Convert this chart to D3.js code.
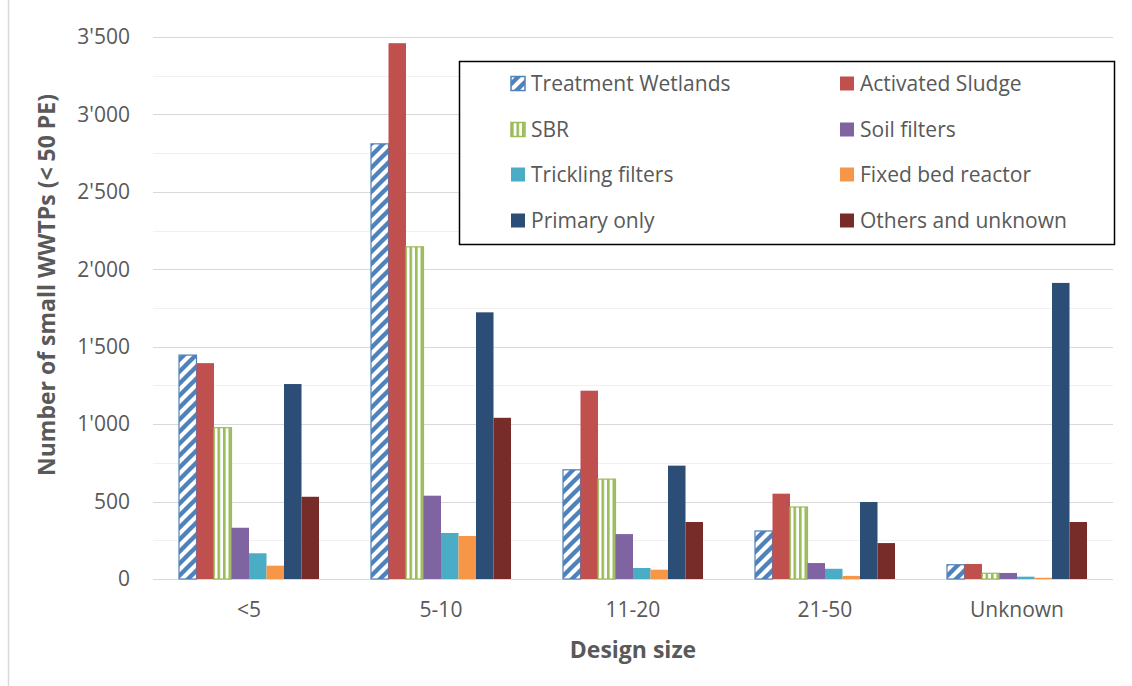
<!DOCTYPE html>
<html><head><meta charset="utf-8">
<script src="https://cdn.jsdelivr.net/npm/d3@7"></script>
<style>body{margin:0;background:#fff}svg{display:block}</style>
</head><body>
<script>
const categories = ["<5", "5-10", "11-20", "21-50", "Unknown"];
const seriesNames = ["Treatment Wetlands", "Activated Sludge", "SBR", "Soil filters",
  "Trickling filters", "Fixed bed reactor", "Primary only", "Others and unknown"];
const treatmentWetlands = [1446, 2810, 705, 310, 92];
const activatedSludge   = [1394, 3460, 1216, 551, 97];
const sbr               = [977, 2145, 645, 465, 37];
const soilFilters       = [331, 538, 290, 103, 39];
const tricklingFilters  = [166, 297, 71, 66, 15];
const fixedBedReactor   = [86, 278, 60, 20, 8];
const primaryOnly       = [1259, 1722, 732, 497, 1912];
const othersUnknown     = [531, 1041, 368, 232, 368];
const yTicks = [0, 500, 1000, 1500, 2000, 2500, 3000, 3500];
const yMinorTicks = [250, 750, 1250, 1750, 2250, 2750, 3250];
const seriesValues = [treatmentWetlands, activatedSludge, sbr, soilFilters,
  tricklingFilters, fixedBedReactor, primaryOnly, othersUnknown];
const colors = ["#4f81bd", "#c0504d", "#9bbb59", "#8064a2", "#4bacc6", "#f79646", "#2c4d75", "#772c2a"];

const W = 1132, H = 686;
const plot = {left: 153, right: 1113, top: 37, bottom: 579};
const font = "'Open Sans', sans-serif";
const textColor = "#595959";

const svg = d3.select("body").append("svg").attr("width", W).attr("height", H);
svg.append("rect").attr("width", W).attr("height", H).attr("fill", "#fff");
svg.append("line").attr("x1", 8.5).attr("x2", 8.5).attr("y1", 0).attr("y2", H)
  .attr("stroke", "#d9d9d9").attr("stroke-width", 1.5);

const defs = svg.append("defs");
const diag = defs.append("pattern").attr("id", "diag").attr("patternUnits", "userSpaceOnUse")
  .attr("width", 12).attr("height", 12);
diag.append("rect").attr("width", 12).attr("height", 12).attr("fill", "#fff");
diag.append("path").attr("d", "M-3,3 L3,-3 M0,12 L12,0 M9,15 L15,9")
  .attr("stroke", colors[0]).attr("stroke-width", 4.4);
const vert = defs.append("pattern").attr("id", "vert").attr("patternUnits", "userSpaceOnUse")
  .attr("width", 5.5).attr("height", 10);
vert.append("rect").attr("width", 5.5).attr("height", 10).attr("fill", "#fff");
vert.append("rect").attr("x", 0).attr("width", 2.6).attr("height", 10).attr("fill", colors[2]);
const fills = colors.map((c, i) => i === 0 ? "url(#diag)" : i === 2 ? "url(#vert)" : c);

const y = d3.scaleLinear().domain([0, 3500]).range([plot.bottom, plot.top]);
const x0 = d3.scaleBand().domain(categories).range([plot.left, plot.right]).paddingInner(0.2708).paddingOuter(0.1354);
const x1 = d3.scaleBand().domain(seriesNames).range([0, x0.bandwidth()]);

// grid
svg.append("g").selectAll("line").data(yMinorTicks).join("line")
  .attr("x1", plot.left).attr("x2", plot.right)
  .attr("y1", d => Math.round(y(d)) + 0.5).attr("y2", d => Math.round(y(d)) + 0.5)
  .attr("stroke", "#f0f0f0").attr("stroke-width", 1.2);
svg.append("g").selectAll("line").data(yTicks).join("line")
  .attr("x1", plot.left).attr("x2", plot.right)
  .attr("y1", d => Math.round(y(d)) + 0.5).attr("y2", d => Math.round(y(d)) + 0.5)
  .attr("stroke", "#d9d9d9").attr("stroke-width", 1.2);

// y tick labels
const fmt = d => d3.format(",")(d).replace(/,/g, "'");
svg.append("g").selectAll("text").data(yTicks).join("text")
  .attr("x", 130).attr("y", d => y(d)).attr("dy", "0.35em")
  .attr("text-anchor", "end").attr("font-family", font).attr("font-size", 21)
  .attr("fill", textColor).text(fmt);

// bars
const groups = svg.append("g").selectAll("g").data(categories).join("g")
  .attr("transform", d => `translate(${x0(d)},0)`);
groups.selectAll("rect").data((c, ci) => seriesNames.map((s, si) => ({s, si, v: seriesValues[si][ci]})))
  .join("rect")
  .attr("x", d => x1(d.s)).attr("width", x1.bandwidth())
  .attr("y", d => y(d.v)).attr("height", d => y(0) - y(d.v))
  .attr("fill", d => fills[d.si])
  .attr("stroke", d => (d.si === 0 || d.si === 2) ? colors[d.si] : "none")
  .attr("stroke-width", 1.2);

// x labels
svg.append("g").selectAll("text").data(categories).join("text")
  .attr("x", d => x0(d) + x0.bandwidth() / 2).attr("y", 610).attr("dy", "0.35em")
  .attr("text-anchor", "middle").attr("font-family", font).attr("font-size", 21)
  .attr("fill", textColor).text(d => d);

// axis titles
svg.append("text").attr("x", 633).attr("y", 650).attr("dy", "0.35em")
  .attr("text-anchor", "middle").attr("font-family", font).attr("font-size", 23)
  .attr("font-weight", "bold").attr("fill", textColor).text("Design size");
svg.append("text").attr("transform", "translate(47,285) rotate(-90)").attr("dy", "0.35em")
  .attr("text-anchor", "middle").attr("font-family", font).attr("font-size", 23)
  .attr("font-weight", "bold").attr("fill", textColor).text("Number of small WWTPs (< 50 PE)");

// legend
const lg = svg.append("g");
lg.append("rect").attr("x", 459.5).attr("y", 61.5).attr("width", 655).attr("height", 183)
  .attr("fill", "#fff").attr("stroke", "#000").attr("stroke-width", 1.5);
const rowY = [84, 130, 175, 221];
const colX = [511, 840];
const items = lg.selectAll("g").data(seriesNames).join("g")
  .attr("transform", (d, i) => `translate(${colX[i % 2]},${rowY[Math.floor(i / 2)]})`);
items.append("rect").attr("x", 0).attr("y", -7.5).attr("width", 14).attr("height", 14)
  .attr("fill", (d, i) => fills[i])
  .attr("stroke", (d, i) => (i === 0 || i === 2) ? colors[i] : "none").attr("stroke-width", 1.5);
items.append("text").attr("x", 20).attr("y", 0).attr("dy", "0.35em")
  .attr("font-family", font).attr("font-size", 21).attr("fill", textColor).text(d => d);
</script>
</body></html>
